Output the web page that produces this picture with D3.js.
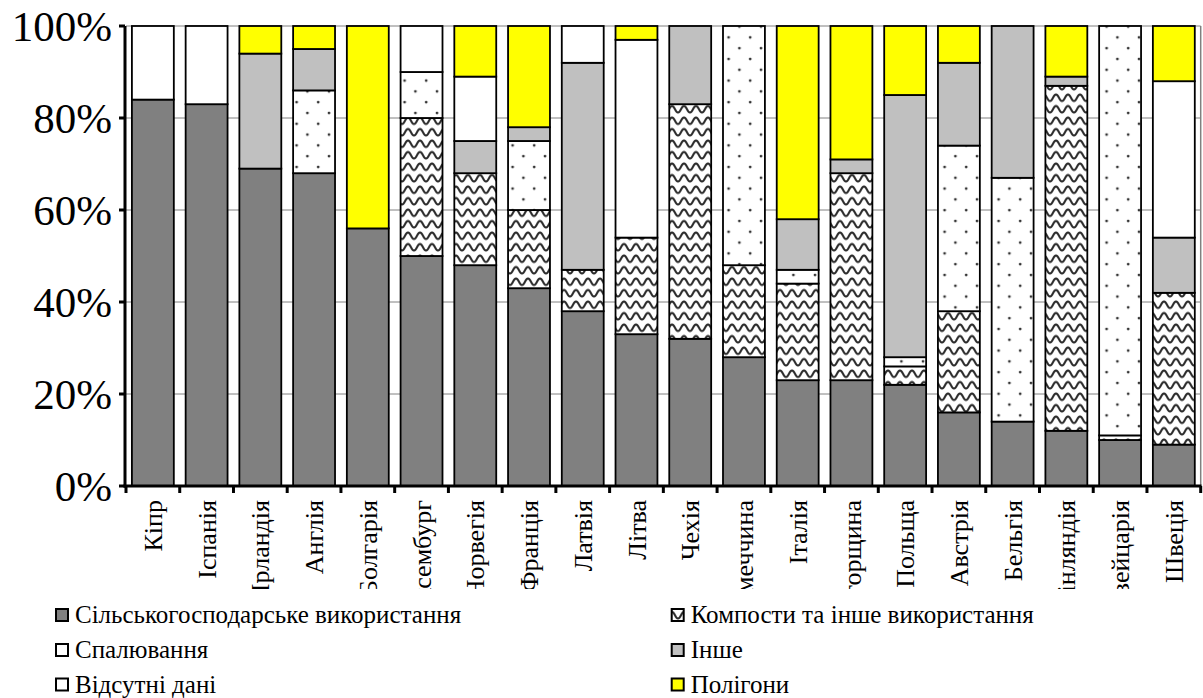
<!DOCTYPE html>
<html><head><meta charset="utf-8">
<script src="https://cdn.jsdelivr.net/npm/d3@7"></script>
<style>body{margin:0;background:#fff}svg{display:block}</style>
</head><body>
<script>
const categories = ["Кіпр","Іспанія","Ірландія","Англія","Болгарія","Люксембург","Норвегія","Франція","Латвія","Літва","Чехія","Німеччина","Італія","Угорщина","Польща","Австрія","Бельгія","Фінляндія","Швейцарія","Швеція"];
const seriesNames = ["Сільськогосподарське використання","Компости та інше використання","Спалювання","Інше","Відсутні дані","Полігони"];
const agri     = [84,83,69,68,56,50,48,43,38,33,32,28,23,23,22,16,14,12,10,9];
const compost  = [0,0,0,0,0,30,20,17,9,21,51,20,21,45,4,22,0,75,1,33];
const incin    = [0,0,0,18,0,10,0,15,0,0,0,52,3,0,2,36,53,0,89,0];
const other    = [0,0,25,9,0,0,7,3,45,0,17,0,11,3,57,18,33,2,0,12];
const missing  = [16,17,0,0,0,10,14,0,8,43,0,0,0,0,0,0,0,0,0,34];
const landfill = [0,0,6,5,44,0,11,22,0,3,0,0,42,29,15,8,0,11,0,12];
const yTicks = [0,20,40,60,80,100];

const W = 1203, H = 698;
const FONT = "'Liberation Serif', 'Times New Roman', serif";
const svg = d3.select("body").append("svg").attr("width", W).attr("height", H);
const defs = svg.append("defs");

const wave = defs.append("pattern").attr("id","wave").attr("patternUnits","userSpaceOnUse")
  .attr("width",12).attr("height",11.5);
wave.append("rect").attr("width",12).attr("height",11.5).attr("fill","#fff");
wave.append("path").attr("d","M0,2.5 C3,2.5 3,9 6,9 C9,9 9,2.5 12,2.5")
  .attr("fill","none").attr("stroke","#2a2a2a").attr("stroke-width",2);

const dots = defs.append("pattern").attr("id","dots").attr("patternUnits","userSpaceOnUse")
  .attr("width",21.6).attr("height",21.6);
dots.append("rect").attr("width",21.6).attr("height",21.6).attr("fill","#fff");
dots.append("circle").attr("cx",5).attr("cy",5).attr("r",1.4).attr("fill","#333");
dots.append("circle").attr("cx",15.8).attr("cy",15.8).attr("r",1.4).attr("fill","#333");

const fills = ["#808080","url(#wave)","url(#dots)","#C0C0C0","#FFFFFF","#FFFF00"];
const seriesData = [agri, compost, incin, other, missing, landfill];

const x = d3.scaleBand().domain(categories).range([126, 1200.7]).paddingInner(0.22).paddingOuter(0.11);
const y = d3.scaleLinear().domain([0,100]).range([486, 26]);

// gridlines
svg.append("g").selectAll("line").data(yTicks.filter(d=>d>0)).join("line")
  .attr("x1",126).attr("x2",1200.7).attr("y1",d=>y(d)).attr("y2",d=>y(d))
  .attr("stroke","#808080").attr("stroke-width",1);
svg.append("line").attr("x1",1200.7).attr("x2",1200.7).attr("y1",y(100)).attr("y2",y(0))
  .attr("stroke","#808080").attr("stroke-width",1.5);

// stacked bars
const rows = categories.map((c,i)=>{const o={cat:c}; seriesNames.forEach((s,k)=>o[s]=seriesData[k][i]); return o;});
const stack = d3.stack().keys(seriesNames)(rows);
const gBars = svg.append("g");
stack.forEach((layer,k)=>{
  gBars.append("g").selectAll("rect").data(layer.filter(d=>d[1]-d[0]>0)).join("rect")
    .attr("x",d=>x(d.data.cat)).attr("width",x.bandwidth())
    .attr("y",d=>y(d[1])).attr("height",d=>y(d[0])-y(d[1]))
    .attr("fill",fills[k]).attr("stroke","#000").attr("stroke-width",1.8);
});

// axes
svg.append("line").attr("x1",125).attr("x2",125).attr("y1",y(100)).attr("y2",y(0)+1.5)
  .attr("stroke","#000").attr("stroke-width",3);
svg.append("line").attr("x1",123.5).attr("x2",1201.5).attr("y1",y(0)).attr("y2",y(0))
  .attr("stroke","#000").attr("stroke-width",3);
svg.append("g").selectAll("line").data(yTicks).join("line")
  .attr("x1",119).attr("x2",125).attr("y1",d=>y(d)).attr("y2",d=>y(d))
  .attr("stroke","#000").attr("stroke-width",3);
const step = x.step();
svg.append("g").selectAll("line").data(d3.range(categories.length+1)).join("line")
  .attr("x1",i=>x.range()[0]+i*step).attr("x2",i=>x.range()[0]+i*step)
  .attr("y1",y(0)).attr("y2",y(0)+7).attr("stroke","#000").attr("stroke-width",3);

svg.append("g").selectAll("text").data(yTicks).join("text")
  .attr("x",112).attr("y",d=>y(d)).attr("dy","0.35em").attr("text-anchor","end")
  .attr("font-family",FONT).attr("font-size",43)
  .attr("fill","#000").text(d=>d+"%");

// category labels, clipped at the bottom like the reference
defs.append("clipPath").attr("id","labclip").append("rect")
  .attr("x",0).attr("y",490).attr("width",W).attr("height",99);
svg.append("g").attr("clip-path","url(#labclip)").selectAll("text").data(categories).join("text")
  .attr("transform",d=>`translate(${x(d)+x.bandwidth()/2},500) rotate(-90)`)
  .attr("dy","0.35em").attr("text-anchor","end")
  .attr("font-family",FONT).attr("font-size",26)
  .attr("fill","#000").text(d=>d);

// legend
const legPos = [[55,623],[670.7,623],[55,658],[670.7,658],[55,692.5],[670.7,692.5]];
const gl = svg.append("g");
seriesNames.forEach((name,k)=>{
  const [lx,ly] = legPos[k];
  gl.append("rect").attr("x",lx+1).attr("y",ly-14).attr("width",12).attr("height",12)
    .attr("fill",fills[k]).attr("stroke","#000").attr("stroke-width",2);
  gl.append("text").attr("x",lx+20).attr("y",ly)
    .attr("font-family",FONT).attr("font-size",25)
    .attr("fill","#000").text(name);
});
</script>
</body></html>
